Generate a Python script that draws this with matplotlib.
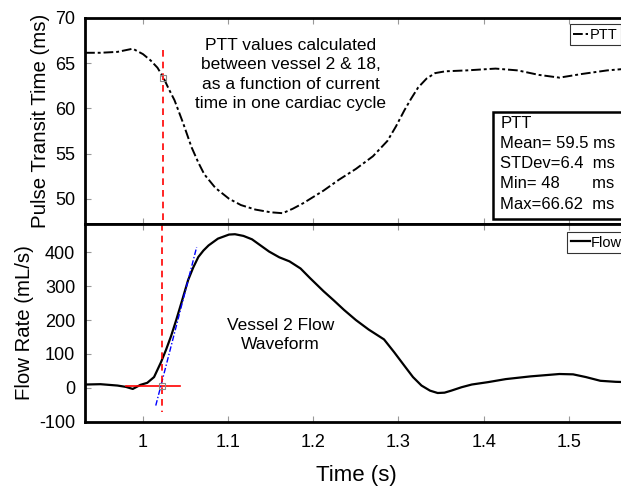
import matplotlib
matplotlib.use("Agg")
import matplotlib.pyplot as plt
from matplotlib.patches import Rectangle

plt.rcParams['font.family'] = ['Liberation Sans', 'DejaVu Sans']
plt.rcParams['axes.unicode_minus'] = False

# PTT curve (s, ms)
ptt_t = [0.932, 0.950, 0.970, 0.988, 1.000, 1.009, 1.017, 1.024, 1.030, 1.037, 1.047,
         1.057, 1.065, 1.072, 1.085, 1.101, 1.115, 1.132, 1.150, 1.164, 1.176, 1.188,
         1.200, 1.212, 1.230, 1.250, 1.270, 1.287, 1.297, 1.307, 1.315, 1.323, 1.333,
         1.343, 1.355, 1.380, 1.414, 1.440, 1.465, 1.489, 1.515, 1.545, 1.570]
ptt_v = [66.15, 66.15, 66.25, 66.6, 66.0, 65.3, 64.5, 63.4, 62.2, 60.9, 58.4,
         55.7, 54.0, 52.7, 51.2, 50.0, 49.3, 48.8, 48.5, 48.4, 48.9, 49.5,
         50.2, 50.9, 52.1, 53.3, 54.7, 56.4, 58.0, 59.8, 61.1, 62.3, 63.3,
         63.9, 64.1, 64.2, 64.4, 64.2, 63.7, 63.4, 63.8, 64.2, 64.4]

# Flow curve (s, mL/s)
flow_t = [0.932, 0.950, 0.970, 0.980, 0.988, 0.997, 1.005, 1.013, 1.021, 1.027, 1.033,
          1.039, 1.045, 1.053, 1.059, 1.065, 1.071, 1.077, 1.088, 1.101, 1.108, 1.118,
          1.128, 1.138, 1.148, 1.160, 1.172, 1.185, 1.196, 1.212, 1.224, 1.236, 1.250,
          1.265, 1.283, 1.295, 1.307, 1.317, 1.327, 1.337, 1.346, 1.354, 1.362, 1.374,
          1.386, 1.405, 1.426, 1.455, 1.489, 1.505, 1.520, 1.537, 1.555, 1.570]
flow_v = [10, 11, 7, 3, -3, 9, 15, 32, 75, 112, 153,
          200, 250, 318, 355, 386, 405, 420, 440, 452, 453, 448,
          438, 420, 402, 385, 373, 352, 324, 285, 258, 230, 200,
          172, 143, 105, 65, 32, 7, -8, -15, -14, -8, 2,
          10, 17, 26, 34, 41, 40, 32, 21, 18, 17]

# Onset markers / tangent construction
onset_t = 1.024
onset_ptt = 63.4
onset_flow = 5
base_t = [0.980, 1.043]
base_v = [5, 5]
tan_t = [1.015, 1.063]
tan_v = [-52, 415]

stats_text = "PTT\nMean= 59.5 ms\nSTDev=6.4  ms\nMin= 48       ms\nMax=66.62  ms"
ptt_note = "PTT values calculated\nbetween vessel 2 & 18,\nas a function of current\ntime in one cardiac cycle"
flow_note = "Vessel 2 Flow\nWaveform"

xticks = [1.0, 1.1, 1.2, 1.3, 1.4, 1.5]
xticklabels = ["1", "1.1", "1.2", "1.3", "1.4", "1.5"]

fig = plt.figure(figsize=(6.21, 4.86), dpi=100)
L, R = 0.137, 1.012
ax1 = fig.add_axes([L, 0.539, R - L, 0.963 - 0.539])
ax2 = fig.add_axes([L, 0.132, R - L, 0.539 - 0.132])

for ax in (ax1, ax2):
    for s in ax.spines.values():
        s.set_linewidth(2.0)
    ax.set_xlim(0.932, 1.570)
    ax.set_xticks(xticks)
    ax.tick_params(direction='in', top=True, right=False, length=4, width=0.8,
                   color='#999999', labelsize=13)
    ax.tick_params(axis='x', pad=9)
    ax.tick_params(axis='y', pad=7)

ax1.plot(ptt_t, ptt_v, color='black', lw=1.4, ls=(0, (5, 1.5, 1.5, 1.5)), label='PTT')
ax1.set_ylim(47.2, 70)
ax1.set_yticks([50, 55, 60, 65, 70])
ax1.set_xticklabels([])
ax1.set_ylabel("Pulse Transit Time (ms)", fontsize=14.7)
ax1.plot([onset_t, onset_t], [66.5, 47.2], color='red', lw=1.2, ls=(0, (4, 3)), clip_on=False)
ax1.plot([onset_t], [onset_ptt], marker='s', ms=5, mfc='none', mec='#888888', mew=0.8)
ax1.text(0.378, 0.905, ptt_note, transform=ax1.transAxes, ha='center', va='top',
         fontsize=12.5, linespacing=1.38)
ax1.add_patch(Rectangle((0.750, 0.024), 0.4, 0.519, transform=ax1.transAxes,
                        fc='white', ec='black', lw=1.8, clip_on=False, zorder=4))
ax1.text(0.764, 0.525, stats_text, transform=ax1.transAxes, ha='left', va='top',
         fontsize=12, linespacing=1.43, zorder=5)
leg1 = ax1.legend(loc='upper left', bbox_to_anchor=(0.892, 0.97), fontsize=10.5,
                  frameon=True, fancybox=False, handlelength=1.0, handletextpad=0.1,
                  borderpad=0.25, borderaxespad=0)
leg1.get_frame().set_edgecolor('black')
leg1.get_frame().set_linewidth(0.8)

ax2.plot(flow_t, flow_v, color='black', lw=1.6, label='Flow')
ax2.set_ylim(-100, 483)
ax2.set_yticks([-100, 0, 100, 200, 300, 400])
ax2.set_xticklabels(xticklabels)
ax2.set_ylabel("Flow Rate (mL/s)", fontsize=14.7)
ax2.set_xlabel("Time (s)", fontsize=16, labelpad=10)
ax2.plot(base_t, base_v, color='red', lw=1.2)
ax2.plot(tan_t, tan_v, color='blue', lw=1.0, ls=(0, (4, 1.5, 1, 1.5)))
ax2.plot([onset_t - 0.002, onset_t - 0.002], [483, -70], color='red', lw=1.2,
         ls=(0, (4, 3)))
ax2.plot([onset_t - 0.002], [onset_flow], marker='s', ms=5, mfc='none', mec='#888888', mew=0.8)
ax2.text(0.359, 0.44, flow_note, transform=ax2.transAxes, ha='center', va='center',
         fontsize=12.5, linespacing=1.38)
leg2 = ax2.legend(loc='upper left', bbox_to_anchor=(0.887, 0.96), fontsize=10.5,
                  frameon=True, fancybox=False, handlelength=1.3, handletextpad=0.1,
                  borderpad=0.25, borderaxespad=0)
leg2.get_frame().set_edgecolor('black')
leg2.get_frame().set_linewidth(0.8)

fig.align_ylabels([ax1, ax2])
fig.savefig("out.png", dpi=100)
